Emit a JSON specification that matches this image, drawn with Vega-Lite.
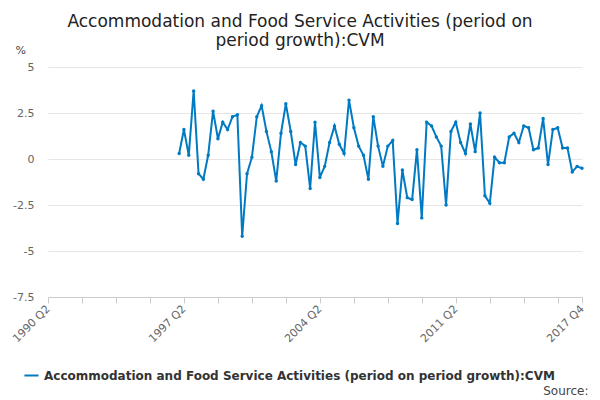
{
  "$schema": "https://vega.github.io/schema/vega-lite/v6.json",
  "width": 534,
  "height": 230,
  "autosize": "none",
  "padding": {"left": 48, "top": 67, "right": 18, "bottom": 103},
  "background": "white",
  "config": {"font": "DejaVu Sans", "view": {"stroke": null}},
  "title": {
    "text": ["Accommodation and Food Service Activities (period on", "period growth):CVM"],
    "fontSize": 17, "fontWeight": "normal", "color": "#222222",
    "anchor": "middle", "frame": "group", "offset": -6, "dx": -15
  },
  "data": {"values": [
    {"q":"1997-01-01","v":0.3},{"q":"1997-04-01","v":1.6},{"q":"1997-07-01","v":0.2},{"q":"1997-10-01","v":3.7},
    {"q":"1998-01-01","v":-0.8},{"q":"1998-04-01","v":-1.1},{"q":"1998-07-01","v":0.2},{"q":"1998-10-01","v":2.6},
    {"q":"1999-01-01","v":1.1},{"q":"1999-04-01","v":2.0},{"q":"1999-07-01","v":1.6},{"q":"1999-10-01","v":2.3},
    {"q":"2000-01-01","v":2.4},{"q":"2000-04-01","v":-4.2},{"q":"2000-07-01","v":-0.8},{"q":"2000-10-01","v":0.1},
    {"q":"2001-01-01","v":2.3},{"q":"2001-04-01","v":2.9},{"q":"2001-07-01","v":1.5},{"q":"2001-10-01","v":0.4},
    {"q":"2002-01-01","v":-1.2},{"q":"2002-04-01","v":1.4},{"q":"2002-07-01","v":3.0},{"q":"2002-10-01","v":1.5},
    {"q":"2003-01-01","v":-0.3},{"q":"2003-04-01","v":0.9},{"q":"2003-07-01","v":0.7},{"q":"2003-10-01","v":-1.6},
    {"q":"2004-01-01","v":2.0},{"q":"2004-04-01","v":-1.0},{"q":"2004-07-01","v":-0.4},{"q":"2004-10-01","v":0.9},
    {"q":"2005-01-01","v":1.8},{"q":"2005-04-01","v":0.8},{"q":"2005-07-01","v":0.3},{"q":"2005-10-01","v":3.2},
    {"q":"2006-01-01","v":1.7},{"q":"2006-04-01","v":0.7},{"q":"2006-07-01","v":0.2},{"q":"2006-10-01","v":-1.1},
    {"q":"2007-01-01","v":2.3},{"q":"2007-04-01","v":0.7},{"q":"2007-07-01","v":-0.4},{"q":"2007-10-01","v":0.7},
    {"q":"2008-01-01","v":1.0},{"q":"2008-04-01","v":-3.5},{"q":"2008-07-01","v":-0.6},{"q":"2008-10-01","v":-2.1},
    {"q":"2009-01-01","v":-2.2},{"q":"2009-04-01","v":0.5},{"q":"2009-07-01","v":-3.2},{"q":"2009-10-01","v":2.0},
    {"q":"2010-01-01","v":1.8},{"q":"2010-04-01","v":1.2},{"q":"2010-07-01","v":0.7},{"q":"2010-10-01","v":-2.5},
    {"q":"2011-01-01","v":1.5},{"q":"2011-04-01","v":2.0},{"q":"2011-07-01","v":0.9},{"q":"2011-10-01","v":0.3},
    {"q":"2012-01-01","v":1.9},{"q":"2012-04-01","v":0.4},{"q":"2012-07-01","v":2.5},{"q":"2012-10-01","v":-2.0},
    {"q":"2013-01-01","v":-2.4},{"q":"2013-04-01","v":0.1},{"q":"2013-07-01","v":-0.2},{"q":"2013-10-01","v":-0.2},
    {"q":"2014-01-01","v":1.2},{"q":"2014-04-01","v":1.4},{"q":"2014-07-01","v":0.9},{"q":"2014-10-01","v":1.8},
    {"q":"2015-01-01","v":1.7},{"q":"2015-04-01","v":0.5},{"q":"2015-07-01","v":0.6},{"q":"2015-10-01","v":2.2},
    {"q":"2016-01-01","v":-0.3},{"q":"2016-04-01","v":1.6},{"q":"2016-07-01","v":1.7},{"q":"2016-10-01","v":0.6},
    {"q":"2017-01-01","v":0.6},{"q":"2017-04-01","v":-0.7},{"q":"2017-07-01","v":-0.4},{"q":"2017-10-01","v":-0.5}
  ]},
  "transform": [{"calculate": "'Accommodation and Food Service Activities (period on period growth):CVM'", "as": "series"}],
  "mark": {"type": "line", "strokeWidth": 2, "point": {"size": 12, "filled": true}},
  "encoding": {
    "x": {
      "field": "q", "type": "temporal",
      "scale": {"type": "utc", "domain": [{"year":1990,"month":4,"date":1,"utc":true},{"year":2017,"month":10,"date":1,"utc":true}]},
      "axis": {
        "values": [
          {"year":1990,"month":4,"date":1,"utc":true},{"year":1992,"month":1,"date":1,"utc":true},{"year":1993,"month":10,"date":1,"utc":true},{"year":1995,"month":7,"date":1,"utc":true},
          {"year":1997,"month":4,"date":1,"utc":true},{"year":1999,"month":1,"date":1,"utc":true},{"year":2000,"month":10,"date":1,"utc":true},{"year":2002,"month":7,"date":1,"utc":true},
          {"year":2004,"month":4,"date":1,"utc":true},{"year":2006,"month":1,"date":1,"utc":true},{"year":2007,"month":10,"date":1,"utc":true},{"year":2009,"month":7,"date":1,"utc":true},
          {"year":2011,"month":4,"date":1,"utc":true},{"year":2013,"month":1,"date":1,"utc":true},{"year":2014,"month":10,"date":1,"utc":true},{"year":2016,"month":7,"date":1,"utc":true},
          {"year":2017,"month":10,"date":1,"utc":true}
        ],
        "labelExpr": "((utcmonth(datum.value)==3 && indexof([1990,1997,2004,2011], utcyear(datum.value))>=0) || (utcyear(datum.value)==2017 && utcmonth(datum.value)==9)) ? utcFormat(datum.value,'%Y') + ' Q' + (floor(utcmonth(datum.value)/3)+1) : ''",
        "labelAngle": -45, "labelAlign": "right", "labelBaseline": "middle", "labelFontSize": 11, "labelColor": "#666666",
        "grid": false, "domainColor": "#cccccc", "tickColor": "#cccccc", "tickSize": 6, "labelPadding": 4,
        "title": "Source:", "titleFontSize": 12, "titleFontWeight": "normal", "titleColor": "#444444",
        "titleAnchor": "end", "titleX": 540, "titleY": 88
      }
    },
    "y": {
      "field": "v", "type": "quantitative",
      "scale": {"domain": [-7.5, 5]},
      "axis": {
        "values": [-7.5, -5, -2.5, 0, 2.5, 5],
        "labelExpr": "replace(format(datum.value, ''), '−', '-')",
        "labelFontSize": 11, "labelColor": "#666666", "labelPadding": 14,
        "domain": false, "ticks": false, "gridColor": "#e6e6e6",
        "title": "%", "titleAngle": 0, "titleFontSize": 11, "titleFontWeight": "normal", "titleColor": "#444444",
        "titleX": -33, "titleY": -12, "titleAlign": "left"
      }
    },
    "color": {
      "field": "series", "type": "nominal",
      "scale": {"range": ["#007ac3"]},
      "legend": {
        "title": null, "orient": "none", "legendX": -25, "legendY": 300,
        "labelFontSize": 12, "labelFontWeight": "bold", "labelColor": "#333333",
        "symbolType": "stroke", "symbolStrokeWidth": 2, "symbolSize": 200, "labelLimit": 600
      }
    }
  }
}
